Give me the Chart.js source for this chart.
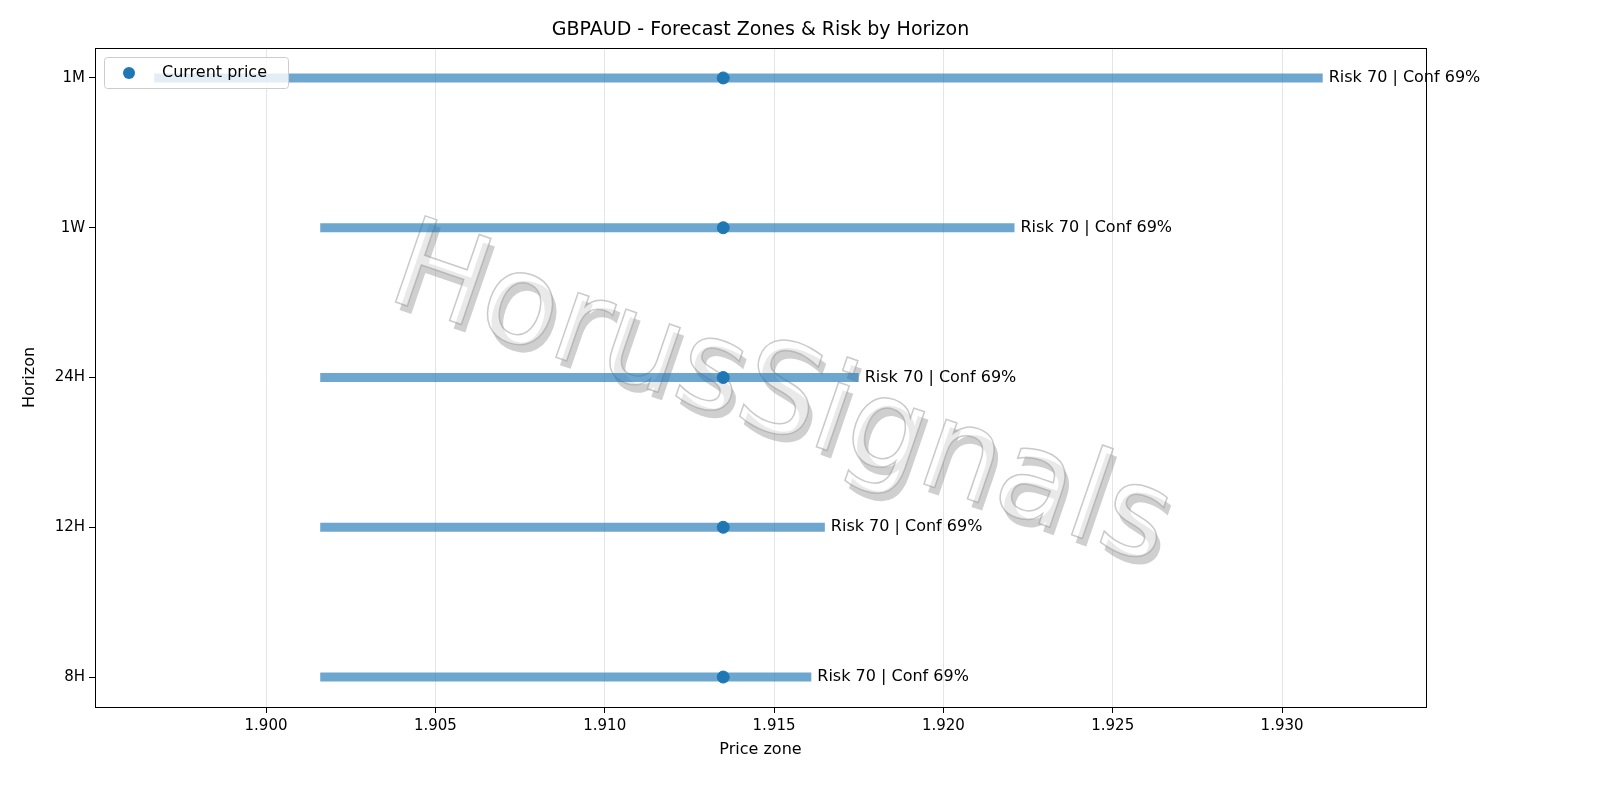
<!DOCTYPE html>
<html>
<head>
<meta charset="utf-8">
<script src="https://cdn.jsdelivr.net/npm/chart.js@4"></script>
<style>
  html, body { margin: 0; background: #fff; overflow: hidden; }
  #wrap { width: 1600px; height: 800px; }
  canvas { display: block; }
</style>
</head>
<body>
<div id="wrap"><canvas id="chart" width="1600" height="800"></canvas></div>
<script>
// horizons, bottom to top
const horizons = ["8H", "12H", "24H", "1W", "1M"];
const zoneLow = [1.9016, 1.9016, 1.9016, 1.9016, 1.8967];
const zoneHigh = [1.9161, 1.9165, 1.9175, 1.9221, 1.9312];
const currentPrice = 1.9135;
const riskLabels = ["Risk 70 | Conf 69%", "Risk 70 | Conf 69%", "Risk 70 | Conf 69%", "Risk 70 | Conf 69%", "Risk 70 | Conf 69%"];
const xTicks = [1.900, 1.905, 1.910, 1.915, 1.920, 1.925, 1.930];

const font = "'DejaVu Sans', sans-serif";
const blue = "#1f77b4";

const datasets = [];
for (let i = 0; i < horizons.length; i++) {
    datasets.push({
        type: "line",
        label: "zone " + horizons[i],
        data: [{ x: zoneLow[i], y: i }, { x: zoneHigh[i], y: i }],
        borderColor: "rgba(31,119,180,0.65)",
        borderWidth: 9,
        borderCapStyle: "butt",
        pointRadius: 0,
        order: 2
    });
}
datasets.push({
    type: "scatter",
    label: "Current price",
    data: horizons.map((h, i) => ({ x: currentPrice, y: i })),
    backgroundColor: blue,
    borderColor: blue,
    pointRadius: 6,
    order: 1
});

const extras = {
    id: "extras",
    beforeDatasetsDraw(chart) {
        const ctx = chart.ctx;
        ctx.save();
        ctx.translate(780, 400);
        ctx.rotate(19 * Math.PI / 180);
        ctx.font = "125px " + font;
        ctx.textAlign = "center";
        ctx.textBaseline = "middle";
        ctx.shadowColor = "rgba(110,110,110,0.6)";
        ctx.shadowOffsetX = 4;
        ctx.shadowOffsetY = 8;
        ctx.fillStyle = "rgba(255,255,255,0.55)";
        ctx.fillText("HorusSignals", 0, 0);
        ctx.shadowColor = "transparent";
        ctx.strokeStyle = "rgba(150,150,150,0.5)";
        ctx.lineWidth = 1.5;
        ctx.strokeText("HorusSignals", 0, 0);
        ctx.restore();
    },
    afterDraw(chart) {
        const ctx = chart.ctx;
        const xs = chart.scales.x, ys = chart.scales.y;
        const a = chart.chartArea;
        ctx.save();
        ctx.strokeStyle = "#000";
        ctx.lineWidth = 1;
        ctx.strokeRect(a.left + 0.5, a.top + 0.5, a.right - a.left, a.bottom - a.top);
        ctx.fillStyle = "#000";
        ctx.font = "16px " + font;
        ctx.textBaseline = "middle";
        ctx.textAlign = "left";
        for (let i = 0; i < horizons.length; i++) {
            ctx.fillText(riskLabels[i], xs.getPixelForValue(zoneHigh[i]) + 6, ys.getPixelForValue(i));
        }
        ctx.textAlign = "center";
        ctx.font = "19px " + font;
        ctx.fillText("GBPAUD - Forecast Zones & Risk by Horizon", (a.left + a.right) / 2, 30);
        ctx.font = "16px " + font;
        ctx.fillText("Price zone", (a.left + a.right) / 2, 750);
        ctx.save();
        ctx.translate(30, (a.top + a.bottom) / 2);
        ctx.rotate(-Math.PI / 2);
        ctx.fillText("Horizon", 0, 0);
        ctx.restore();
        // legend
        ctx.fillStyle = "rgba(255,255,255,0.8)";
        ctx.strokeStyle = "#ccc";
        ctx.lineWidth = 1;
        ctx.beginPath();
        ctx.roundRect(104.5, 57.5, 184, 31, 3);
        ctx.fill();
        ctx.stroke();
        ctx.fillStyle = blue;
        ctx.beginPath();
        ctx.arc(129, 73, 6, 0, Math.PI * 2);
        ctx.fill();
        ctx.fillStyle = "#000";
        ctx.textAlign = "left";
        ctx.fillText("Current price", 162, 73);
        ctx.restore();
    }
};

new Chart(document.getElementById("chart"), {
    data: { datasets: datasets },
    options: {
        responsive: false,
        animation: false,
        layout: { padding: { left: 0, right: 174, top: 48, bottom: 0 } },
        plugins: { legend: { display: false }, tooltip: { enabled: false } },
        scales: {
            x: {
                type: "linear",
                min: 1.89495,
                max: 1.93425,
                afterFit(s) { s.height = 93; },
                afterBuildTicks(s) { s.ticks = xTicks.map(v => ({ value: v })); },
                ticks: { callback: v => v.toFixed(3), color: "#000", font: { family: font, size: 15 }, maxRotation: 0, padding: 4 },
                grid: { color: "rgba(0,0,0,0.1)", drawTicks: true, tickLength: 6, tickColor: "#000" },
                border: { color: "#000", width: 1 }
            },
            y: {
                type: "linear",
                min: -0.2,
                max: 4.2,
                afterFit(s) { s.width = 95; },
                afterBuildTicks(s) { s.ticks = horizons.map((h, i) => ({ value: i })); },
                ticks: { callback: v => horizons[v], color: "#000", font: { family: font, size: 15 }, padding: 4 },
                grid: { display: true, drawOnChartArea: false, tickLength: 6, tickColor: "#000" },
                border: { color: "#000", width: 1 }
            }
        }
    },
    plugins: [extras]
});
</script>
</body>
</html>
